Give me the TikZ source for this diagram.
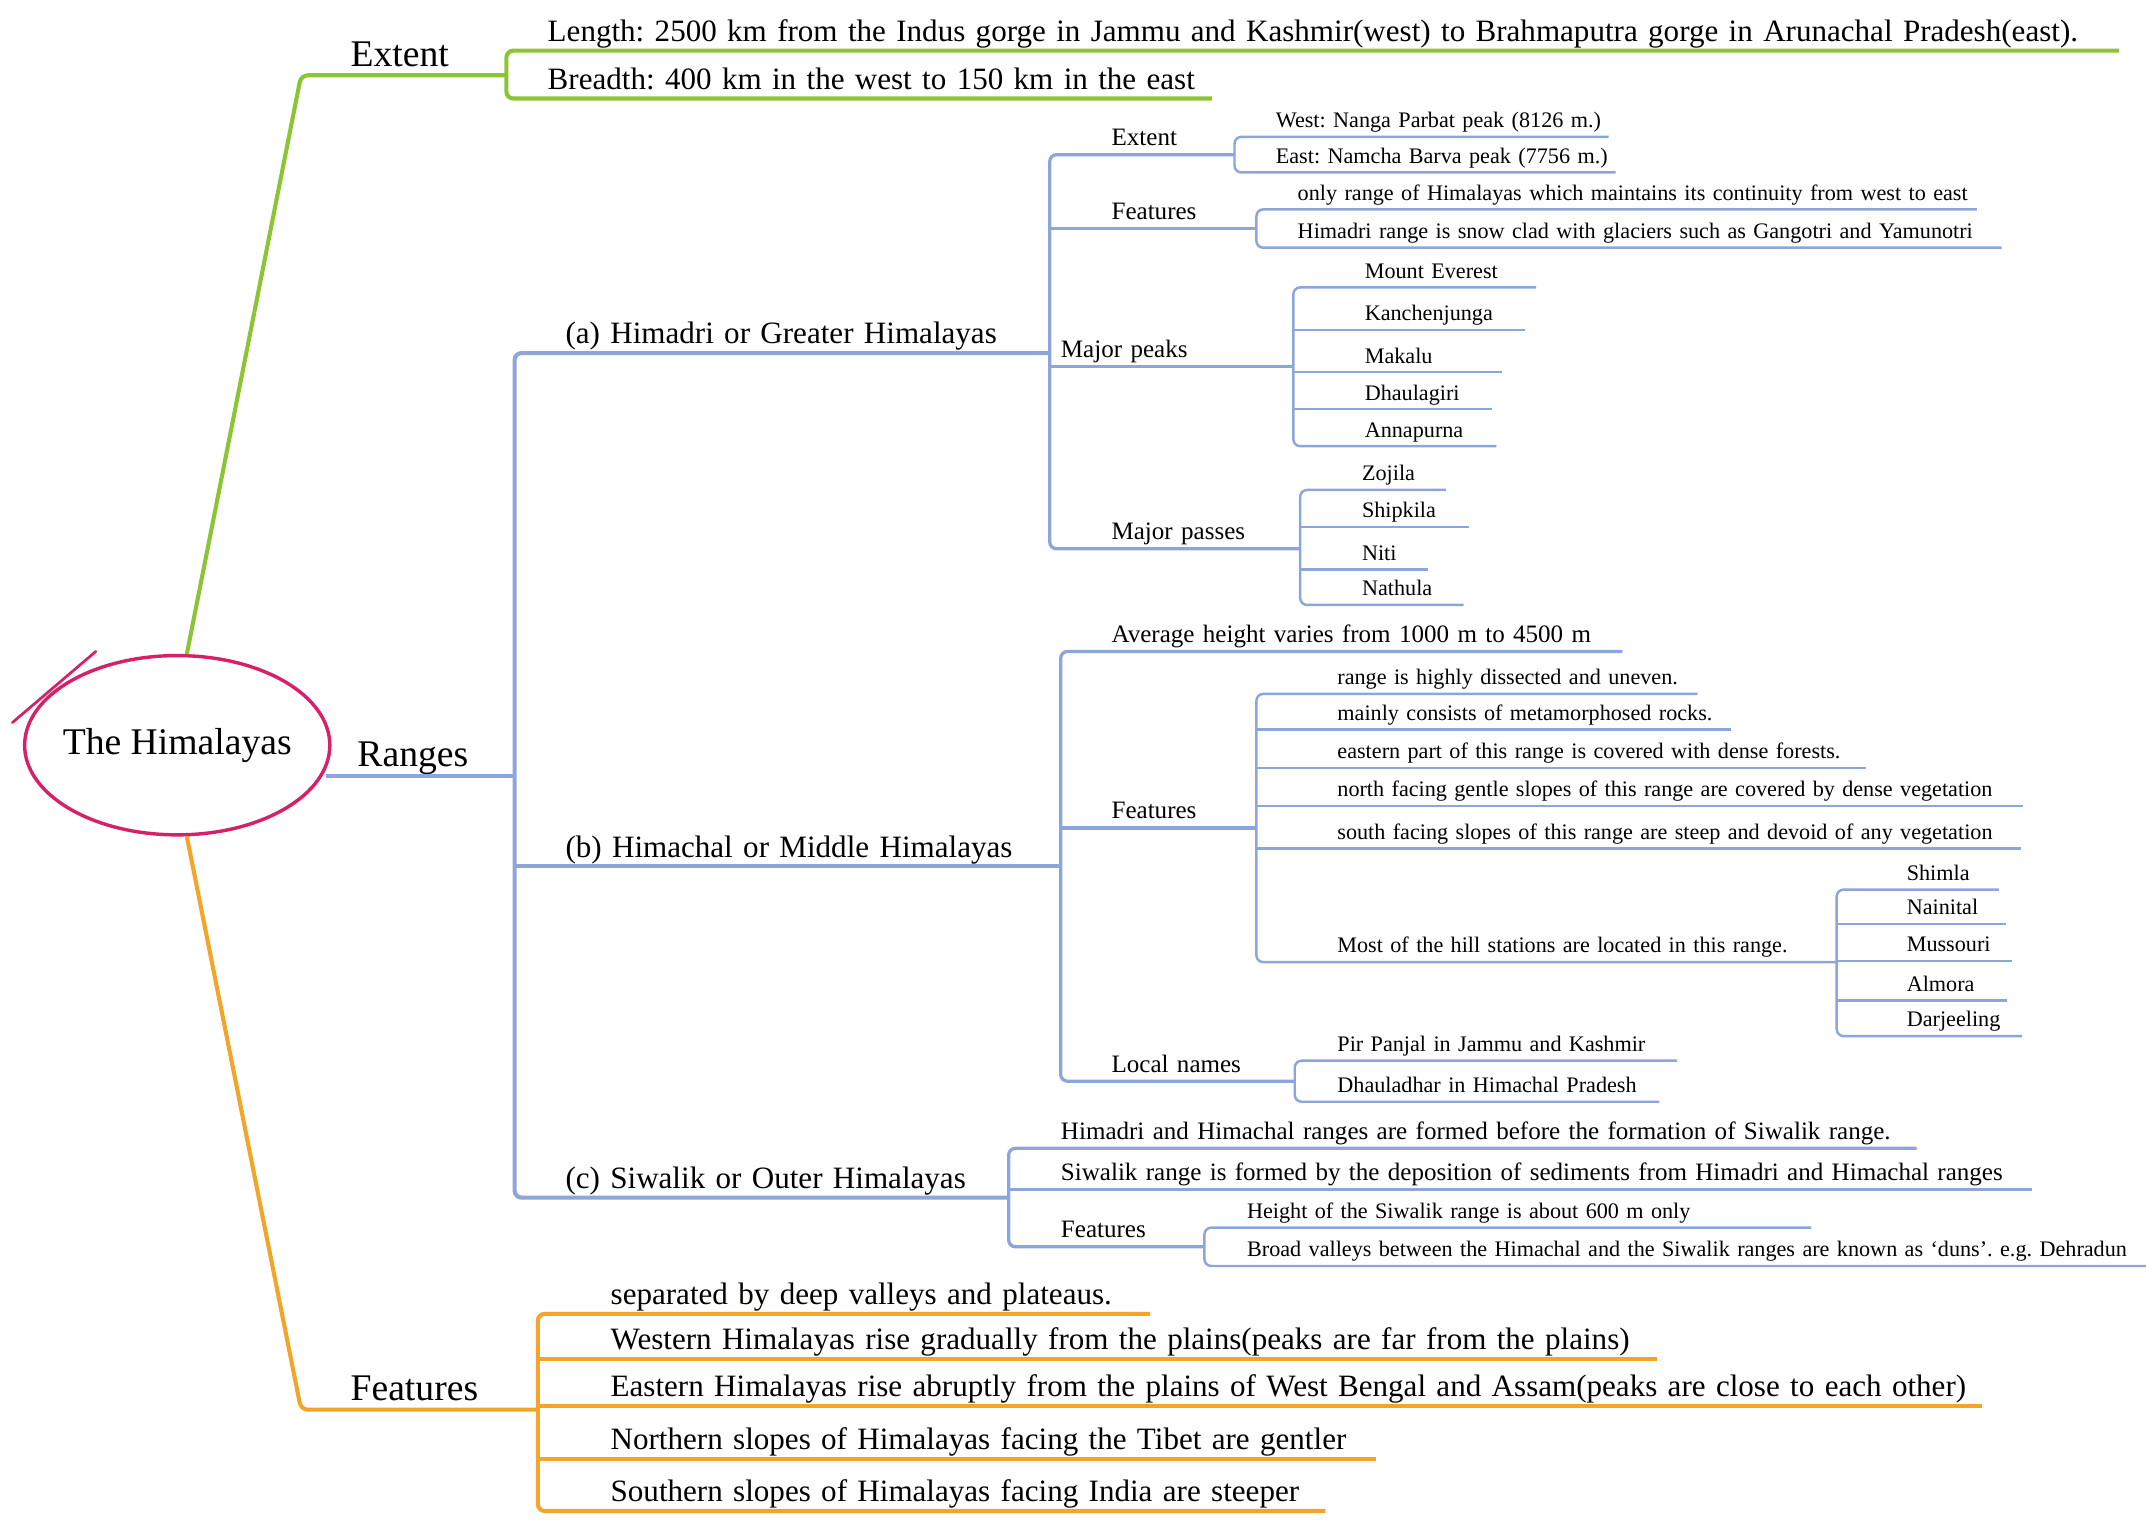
\documentclass[tikz,border=0pt]{standalone}
\usepackage{fontspec}
\setmainfont{Liberation Serif}
\usetikzlibrary{shapes.geometric}
\definecolor{mapgreen}{RGB}{141,196,52}
\definecolor{mapblue}{RGB}{140,166,218}
\definecolor{maporange}{RGB}{242,165,40}
\definecolor{mappink}{RGB}{214,32,104}
\frenchspacing

\begin{document}
\begin{tikzpicture}[x=1pt, y=-1pt,
  item/.style 2 args={anchor=south west, inner xsep=0pt, inner ysep=1.5pt,
    text depth=.5em, text width=#2pt, align=left,
    execute at begin node={\hspace*{#1pt}}},
  rootfont/.style={font=\fontsize{27.5}{30}\selectfont},
  bigtext/.style={font=\fontsize{22.7}{25}\selectfont},
  midtext/.style={font=\fontsize{18.3}{21}\selectfont},
  smalltext/.style={font=\fontsize{16.2}{18}\selectfont},
  gline/.style={draw=mapgreen, line width=3pt, rounded corners=5pt},
  oline/.style={draw=maporange, line width=3pt, rounded corners=5pt},
  bline/.style={draw=mapblue, line width=3pt, rounded corners=5pt},
  bsub/.style={bline, line width=2.4pt},
  bleaf/.style={bline, line width=1.8pt}]
   \useasboundingbox (0,0) rectangle (1568,1110);

   % centre
   \node[draw=mappink, line width=2.5pt, ellipse, minimum width=223pt,
         minimum height=131pt, inner xsep=-12pt, inner ysep=0pt, rootfont] (root) at (129.5,544.5) {The Himalayas};
   \draw[mappink, line width=2pt, line cap=round] (9,528) -- (70,476);

   % extent
   \node[item={36}{150}, rootfont] (ext) at (220,55) {Extent};
   \node[item={30}{1178}, bigtext] (len) at (370,37) {Length: 2500 km from the Indus gorge in Jammu and Kashmir(west) to Brahmaputra gorge in Arunachal Pradesh(east).};
   \node[item={30}{515}, bigtext] (bre) at (370,72) {Breadth: 400 km in the west to 150 km in the east};
   \draw[gline] (root.84) -- (ext.south west) -- (ext.south east);
   \draw[gline] (len.south east) -- (len.south west) -- (bre.south west) -- (bre.south east);

   % ranges
   \node[item={23}{138}, rootfont] (rng) at (238,567) {Ranges};
   \node[item={37}{391}, bigtext] (ra) at (376,258) {(a) Himadri or Greater Himalayas};
   \node[item={37}{399}, bigtext] (rb) at (376,633) {(b) Himachal or Middle Himalayas};
   \node[item={37}{361}, bigtext] (rc) at (376,875) {(c) Siwalik or Outer Himalayas};
   \draw[bline] (rng.south west) -- (rng.south east);
   \draw[bline] (ra.south east) -- (ra.south west) -- (rc.south west) -- (rc.south east);
   \draw[bline] (rb.south west) -- (rb.south east);

   % (a) Himadri
   \node[item={45}{135}, midtext] (aext) at (767,113) {Extent};
   \node[item={45}{151}, midtext] (afea) at (767,167) {Features};
   \node[item={8}{178}, midtext] (apk) at (767,268) {Major peaks};
   \node[item={45}{183}, midtext] (aps) at (767,401) {Major passes};
   \draw[bsub] (aext.south east) -- (aext.south west) -- (aps.south west) -- (aps.south east);
   \foreach \n in {afea,apk}
     \draw[bsub] (\n.south west) -- (\n.south east);

   \node[item={30}{273}, smalltext] (wst) at (902,100) {West: Nanga Parbat peak (8126 m.)};
   \node[item={30}{278}, smalltext] (est) at (902,126) {East: Namcha Barva peak (7756 m.)};
   \draw[bleaf] (wst.south east) -- (wst.south west) -- (est.south west) -- (est.south east);

   \node[item={30}{526}, smalltext] (af1) at (918,153) {only range of Himalayas which maintains its continuity from west to east};
   \node[item={30}{544}, smalltext] (af2) at (918,181) {Himadri range is snow clad with glaciers such as Gangotri and Yamunotri};
   \draw[bleaf] (af1.south east) -- (af1.south west) -- (af2.south west) -- (af2.south east);

   \foreach \n/\y/\l/\t in {pk1/210/177/Mount Everest, pk2/241/169/Kanchenjunga,
       pk3/272/152/Makalu, pk4/299/145/Dhaulagiri, pk5/326/148/Annapurna}
     \node[item={52}{\l}, smalltext] (\n) at (945,\y) {\t};
   \draw[bleaf] (pk1.south east) -- (pk1.south west) -- (pk5.south west) -- (pk5.south east);
   \foreach \n in {pk2,pk3,pk4}
     \draw[bleaf] (\n.south west) -- (\n.south east);

   \foreach \n/\y/\l/\t in {ps1/358/106/Zojila, ps2/385/123/Shipkila,
       ps3/416/93/Niti, ps4/442/119/Nathula}
     \node[item={45}{\l}, smalltext] (\n) at (950,\y) {\t};
   \draw[bleaf] (ps1.south east) -- (ps1.south west) -- (ps4.south west) -- (ps4.south east);
   \foreach \n in {ps2,ps3}
     \draw[bleaf] (\n.south west) -- (\n.south east);

   % (b) Himachal
   \node[item={37}{410}, midtext] (bavg) at (775,476) {Average height varies from 1000 m to 4500 m};
   \node[item={37}{143}, midtext] (bfea) at (775,605) {Features};
   \node[item={37}{171}, midtext] (bloc) at (775,790) {Local names};
   \draw[bsub] (bavg.south east) -- (bavg.south west) -- (bloc.south west) -- (bloc.south east);
   \draw[bsub] (bfea.south west) -- (bfea.south east);

   \node[item={59}{322}, smalltext] (bf1) at (918,507) {range is highly dissected and uneven.};
   \node[item={59}{346}, smalltext] (bf2) at (918,533) {mainly consists of metamorphosed rocks.};
   \node[item={59}{445}, smalltext] (bf3) at (918,561) {eastern part of this range is covered with dense forests.};
   \node[item={59}{560}, smalltext] (bf4) at (918,589) {north facing gentle slopes of this range are covered by dense vegetation};
   \node[item={59}{558}, smalltext] (bf5) at (918,620) {south facing slopes of this range are steep and devoid of any vegetation};
   \node[item={59}{424}, smalltext] (bf6) at (918,703) {Most of the hill stations are located in this range.};
   \draw[bleaf] (bf1.south east) -- (bf1.south west) -- (bf6.south west) -- (bf6.south east);
   \foreach \n in {bf2,bf3,bf4,bf5}
     \draw[bleaf] (\n.south west) -- (\n.south east);

   \foreach \n/\y/\l/\t in {hs1/650/118/Shimla, hs2/675/123/Nainital,
       hs3/702/128/Mussouri, hs4/731/124/Almora, hs5/757/135/Darjeeling}
     \node[item={51}{\l}, smalltext] (\n) at (1342,\y) {\t};
   \draw[bleaf] (hs1.south east) -- (hs1.south west) -- (hs5.south west) -- (hs5.south east);
   \foreach \n in {hs2,hs3,hs4}
     \draw[bleaf] (\n.south west) -- (\n.south east);

   \node[item={31}{279}, smalltext] (ln1) at (946,775) {Pir Panjal in Jammu and Kashmir};
   \node[item={31}{266}, smalltext] (ln2) at (946,805) {Dhauladhar in Himachal Pradesh};
   \draw[bleaf] (ln1.south east) -- (ln1.south west) -- (ln2.south west) -- (ln2.south east);

   % (c) Siwalik
   \node[item={38}{663}, midtext] (c1) at (737,839) {Himadri and Himachal ranges are formed before the formation of Siwalik range.};
   \node[item={38}{747}, midtext] (c2) at (737,869) {Siwalik range is formed by the deposition of sediments from Himadri and Himachal ranges};
   \node[item={38}{143}, midtext] (cfea) at (737,911) {Features};
   \draw[bsub] (c1.south east) -- (c1.south west) -- (cfea.south west) -- (cfea.south east);
   \draw[bsub] (c2.south west) -- (c2.south east);

   \node[item={31}{443}, smalltext] (cf1) at (880,897) {Height of the Siwalik range is about 600 m only};
   \node[item={31}{688}, smalltext] (cf2) at (880,925) {Broad valleys between the Himachal and the Siwalik ranges are known as `duns'. e.g. Dehradun};
   \draw[bleaf] (cf1.south east) -- (cf1.south west) -- (cf2.south west) -- (cf2.south east);

   % features
   \node[item={36}{173}, rootfont] (fea) at (220,1030) {Features};
   \draw[oline] (root.-84) -- (fea.south west) -- (fea.south east);
   \node[item={53}{447}, bigtext] (o1) at (393,960) {separated by deep valleys and plateaus.};
   \node[item={53}{817}, bigtext] (o2) at (393,993) {Western Himalayas rise gradually from the plains(peaks are far from the plains)};
   \node[item={53}{1055}, bigtext] (o3) at (393,1027) {Eastern Himalayas rise abruptly from the plains of West Bengal and Assam(peaks are close to each other)};
   \node[item={53}{612}, bigtext] (o4) at (393,1066) {Northern slopes of Himalayas facing the Tibet are gentler};
   \node[item={53}{575}, bigtext] (o5) at (393,1104) {Southern slopes of Himalayas facing India are steeper};
   \draw[oline] (o1.south east) -- (o1.south west) -- (o5.south west) -- (o5.south east);
   \foreach \n in {o2,o3,o4}
     \draw[oline] (\n.south west) -- (\n.south east);
\end{tikzpicture}
\end{document}
